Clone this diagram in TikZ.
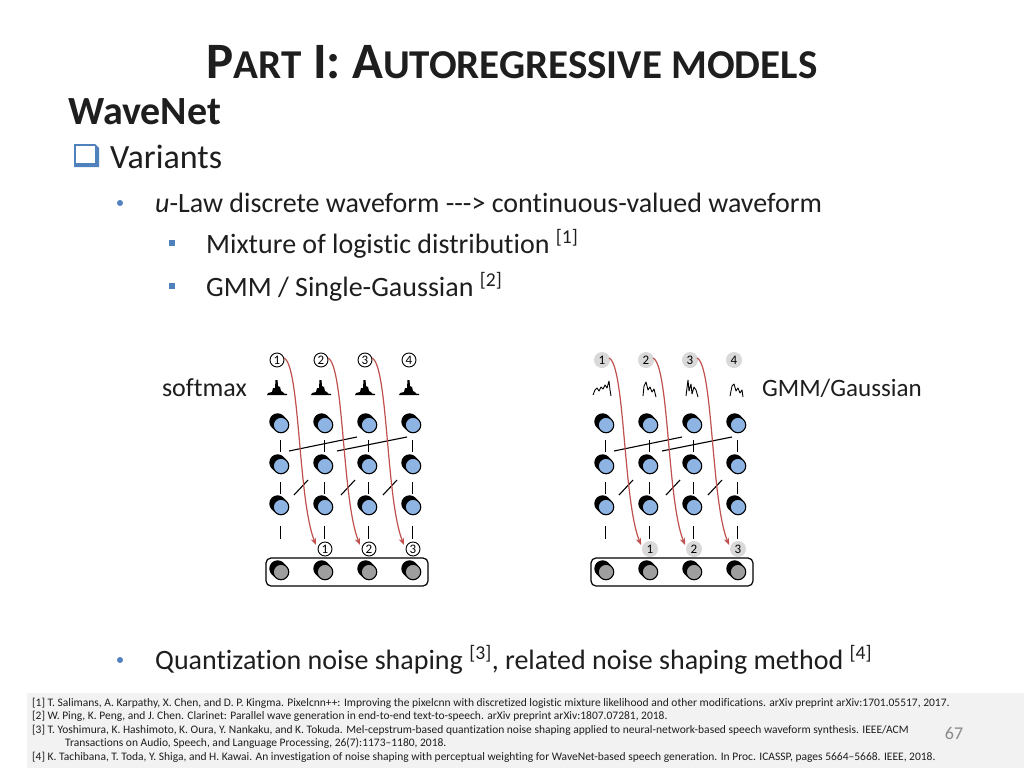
\documentclass[tikz,border=0pt]{standalone}
\usepackage{fontspec}
\setmainfont{Carlito}[Ligatures={TeX,NoCommon}]
\usetikzlibrary{shadows,calc,arrows.meta}
\definecolor{nodeblue}{RGB}{142,180,227}
\definecolor{accent}{RGB}{79,129,189}
\definecolor{arrowred}{RGB}{192,80,77}
\definecolor{footgray}{RGB}{242,242,242}
\definecolor{numgray}{RGB}{217,217,217}
\definecolor{txt}{RGB}{30,30,30}
\definecolor{pagegray}{RGB}{137,137,137}
\newcommand\smc[1]{{\fontsize{41}{41}\selectfont #1}}
\tikzset{
  unit/.style={circle, draw=black, line width=1.1pt, fill=nodeblue, minimum size=15.5pt, inner sep=0pt,
    double copy shadow={shadow xshift=-1.7pt, shadow yshift=1.7pt, fill=black, draw=black}},
  inunit/.style={unit, fill=black!38},
  wnum/.style={circle, draw=black, line width=0.9pt, fill=white, inner sep=0pt, minimum size=14pt, font=\fontsize{13}{13}\selectfont},
  gnum/.style={circle, fill=numgray, inner sep=0pt, minimum size=16pt, font=\fontsize{13}{13}\selectfont},
  tick/.style={line width=1pt},
  link/.style={line width=1.1pt},
  redarr/.style={draw=arrowred, line width=1.2pt, -{Stealth[length=7pt,width=5.5pt]}},
  wave/.style={line width=0.9pt, line join=round},
  txtnode/.style={inner sep=0pt, text=txt},
}
\newcommand\netbody[1]{%
  \node[draw, line width=1.2pt, rounded corners=5pt, minimum width=162pt, minimum height=28pt, inner sep=0pt] (box) at (347,572) {};
  \foreach \c [count=\i] in {0,44,88,132} {
    \node[unit] (r1c\i) at (281+\c,425) {};
    \node[unit] (r2c\i) at (281+\c,466) {};
    \node[unit] (r3c\i) at (281+\c,507) {};
    \node[inunit] (r4c\i) at (281+\c,572) {};
    \node[#1] (t\i) at (277+\c,360) {\i};
    \draw[tick] ($(r1c\i)+(-1,15)$) -- ($(r1c\i)+(-1,27)$);
    \draw[tick] ($(r2c\i)+(-1,16)$) -- ($(r2c\i)+(-1,28)$);
    \draw[tick] ($(r3c\i)+(-1,19)$) -- ($(r3c\i)+(-1,32)$);
  }
  \foreach \j/\c in {1/44,2/88,3/132} {
    \node[#1] (b\j) at (281+\c,549) {\j};
  }
  \draw[link] ($(r2c1)+(8,-15)$) -- ($(r1c3)+(-12,12)$);
  \draw[link] ($(r2c2)+(12,-15)$) -- ($(r1c4)+(-6,12)$);
  \draw[link] ($(r3c1)+(13,-12)$) -- ($(r2c2)+(-17,14)$);
  \draw[link] ($(r3c2)+(16,-12)$) -- ($(r2c3)+(-14,14)$);
  \draw[link] ($(r3c3)+(14,-12)$) -- ($(r2c4)+(-16,14)$);
  \foreach \j in {1,2,3} {
    \draw[redarr] ($(t\j)+(7,-2)$) .. controls ($(t\j)+(23,5)$) and ($(b\j)+(-27,-49)$) .. ($(b\j)+(-9,-4)$);
  }
}
\begin{document}
\begin{tikzpicture}[x=1pt,y=-1pt]
\useasboundingbox (0,0) rectangle (1024,768);
\fill[white] (0,0) rectangle (1024,768);
\fill[footgray] (27,693) rectangle (1024,768);

% title
\node[txtnode, anchor=base] (title) at (512,78) {\fontsize{51}{51}\selectfont\bfseries P\smc{ART} I: A\smc{UTOREGRESSIVE MODELS}};
\node[txtnode, anchor=base west] (wavenet) at (68,124) {\fontsize{40}{40}\selectfont\bfseries WaveNet};

% checkbox
\fill[accent] (74,144) -- (95,144) -- (99,148) -- (99,167) -- (74,167) -- cycle;
\fill[white] (76,146) rectangle (95,163);
\node[txtnode, anchor=base west] (variants) at (110,168) {\fontsize{34}{34}\selectfont Variants};

% bullets
\node[circle, fill=accent, inner sep=0pt, minimum size=6pt] (bul1) at (120,203) {};
\node[txtnode, anchor=base west] (line1) at (155,212) {\fontsize{28}{28}\selectfont\textit{u}-Law discrete waveform -{}-{}-> continuous-valued waveform};
\node[fill=accent, inner sep=0pt, minimum size=6pt] (sq1) at (172,243) {};
\node[txtnode, anchor=base west] (line2) at (206,253) {\fontsize{28}{28}\selectfont Mixture of logistic distribution \textsuperscript{[1]}};
\node[fill=accent, inner sep=0pt, minimum size=6pt] (sq2) at (172,286) {};
\node[txtnode, anchor=base west] (line3) at (206,296) {\fontsize{28}{28}\selectfont GMM / Single-Gaussian \textsuperscript{[2]}};
\node[circle, fill=accent, inner sep=0pt, minimum size=6pt] (bul2) at (120,660) {};
\node[txtnode, anchor=base west] (line4) at (155,669) {\fontsize{28}{28}\selectfont Quantization noise shaping \textsuperscript{[3]}, related noise shaping method \textsuperscript{[4]}};

% left network
\begin{scope}[name prefix=L-]
  \netbody{wnum}
  \foreach \c in {0,44,88,132} {
    \begin{scope}[shift={(277+\c,395)}]
      \fill[black] (-10,0) -- (-9,-2) -- (-5,-3) -- (-4,-7) -- (-2,-7) -- (-1.5,-15) -- (0.5,-15) -- (1,-9) -- (3,-8) -- (4,-4) -- (6,-3) -- (7,-1.5) -- (10,-1) -- (10,0) -- cycle;
    \end{scope}
  }
\end{scope}
\node[txtnode, anchor=east] (softmax) at (247,388) {\fontsize{26}{26}\selectfont softmax};

% right network
\begin{scope}[xshift=325pt, name prefix=R-]
  \netbody{gnum}
  \draw[wave] (268,395) -- (270,390) -- (272,388) -- (274,391) -- (276,387) -- (278,389) -- (280,385) -- (282,388) -- (284,381) -- (285,390) -- (286,396);
  \draw[wave] (318,396) -- (319,386) -- (321,382) -- (323,390) -- (325,387) -- (327,392) -- (329,389) -- (331,397);
  \draw[wave] (361,396) -- (363,380) -- (364,391) -- (366,384) -- (367,394) -- (369,387) -- (371,390) -- (373,397);
  \draw[wave] (405,396) -- (407,386) -- (409,384) -- (411,391) -- (413,388) -- (415,393) -- (417,390) -- (418,397);
\end{scope}
\node[txtnode, anchor=west] (gmm) at (762,388) {\fontsize{25}{25}\selectfont GMM/Gaussian};

% footer
\begin{scope}[every node/.style={txtnode, anchor=base west, font=\fontsize{11.5}{11.5}\selectfont}]
\node (ref1) at (32,706) {[1] T. Salimans, A. Karpathy, X. Chen, and D. P. Kingma. Pixelcnn++: Improving the pixelcnn with discretized logistic mixture likelihood and other modifications. arXiv preprint arXiv:1701.05517, 2017.};
\node (ref2) at (32,719.5) {[2] W. Ping, K. Peng, and J. Chen. Clarinet: Parallel wave generation in end-to-end text-to-speech. arXiv preprint arXiv:1807.07281, 2018.};
\node (ref3) at (32,733) {[3] T. Yoshimura, K. Hashimoto, K. Oura, Y. Nankaku, and K. Tokuda. Mel-cepstrum-based quantization noise shaping applied to neural-network-based speech waveform synthesis. IEEE/ACM};
\node (ref3b) at (65,746.5) {Transactions on Audio, Speech, and Language Processing, 26(7):1173--1180, 2018.};
\node (ref4) at (32,760) {[4] K. Tachibana, T. Toda, Y. Shiga, and H. Kawai. An investigation of noise shaping with perceptual weighting for WaveNet-based speech generation. In Proc. ICASSP, pages 5664--5668. IEEE, 2018.};
\end{scope}
\node[inner sep=0pt, text=pagegray, font=\fontsize{18}{18}\selectfont] (page) at (954,733) {67};
\end{tikzpicture}
\end{document}
